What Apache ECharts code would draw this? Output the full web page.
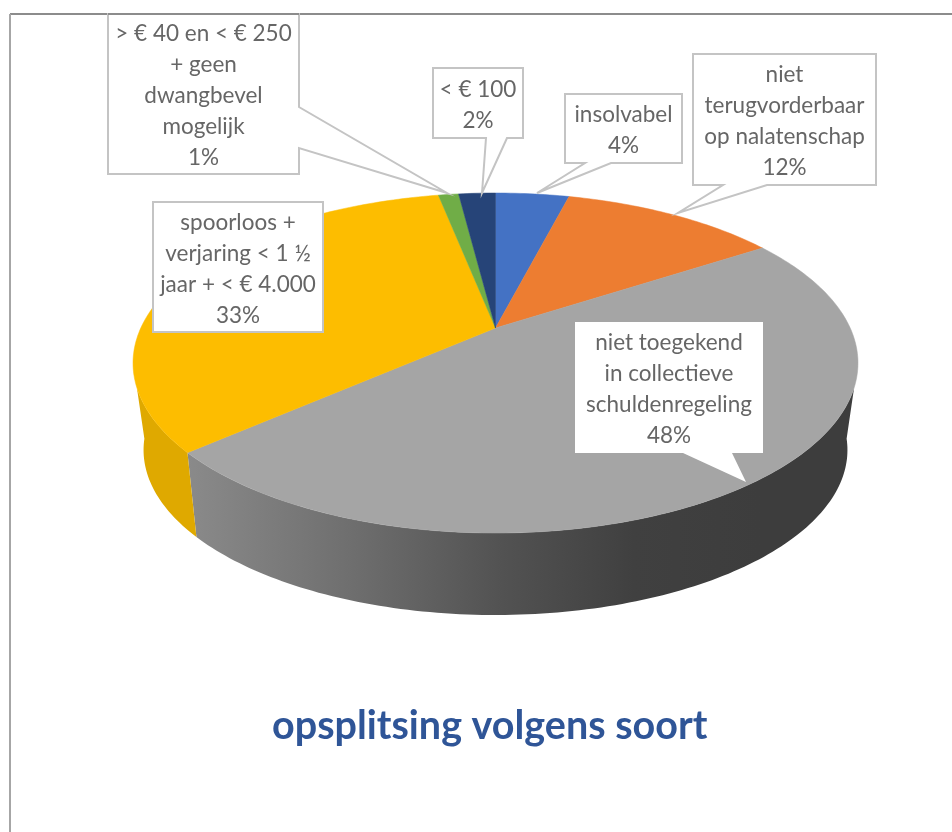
<!DOCTYPE html>
<html><head><meta charset="utf-8">
<style>html,body{margin:0;padding:0;background:#fff}#c{width:952px;height:832px}</style>
<script src="https://cdn.jsdelivr.net/npm/echarts@6/dist/echarts.min.js"></script>
</head><body><div id="c"></div>
<script>
// --- data ---
var categories = [
  'insolvabel',
  'niet\nterugvorderbaar\nop nalatenschap',
  'niet toegekend\nin collectieve\nschuldenregeling',
  'spoorloos +\nverjaring < 1 ½\njaar + < € 4.000',
  '> € 40 en < € 250\n+ geen\ndwangbevel\nmogelijk',
  '< € 100'
];
var values = [4.0, 11.8, 47.7, 33.4, 1.1, 2.0];
var titleText = 'opsplitsing volgens soort';

// --- styling ---
var topColors = ['#4472C4', '#ED7D31', '#A5A5A5', '#FDBD00', '#70AD47', '#264478'];
var FONT = 'Lato, "Open Sans", sans-serif';

// --- perspective of the disc ---
var K = 0.206;
var TOP = { cx: 495.5, cy: 328, R: 354.7, S: 162.8 };
var BOT = { cx: 495.5, cy: 416, R: 344.4, S: 158 };
var TOP_RANGE = [110, 250];   // front part of the rim (degrees clockwise from 12 o'clock)
var BOT_RANGE = [98, 262];

function proj(d, deg) {
  var a = deg * Math.PI / 180, X = Math.sin(a), Y = Math.cos(a), w = 1 + K * Y;
  return [d.cx + d.R * X / w, d.cy - d.S * Y / w];
}
function arc(d, a, b) {
  var pts = [], n = Math.max(2, Math.ceil(Math.abs(b - a) / 1));
  for (var i = 0; i <= n; i++) pts.push(proj(d, a + (b - a) * i / n));
  return pts;
}
var total = values.reduce(function (s, v) { return s + v; }, 0);
var cum = 0;
var rows = values.map(function (v, i) {
  var r = [cum / total * 360, (cum + v) / total * 360, i];
  cum += v;
  return r;
});

function sideFill(i) {
  if (i === 2) {
    // horizontal shading of the grey rim
    return new echarts.graphic.LinearGradient(188, 0, 760, 0, [
      { offset: 0, color: '#8A8A8A' },
      { offset: 0.28, color: '#6F6F6F' },
      { offset: 0.55, color: '#525252' },
      { offset: 0.78, color: '#404040' },
      { offset: 1, color: '#3D3D3D' }
    ], true);
  }
  return '#DFA900';
}

function renderSlice(params, api) {
  var a = api.value(0), b = api.value(1), i = api.value(2);
  var children = [];
  var ta = Math.max(a, TOP_RANGE[0]), tb = Math.min(b, TOP_RANGE[1]);
  if (tb > ta) {
    var ba = Math.max(a, BOT_RANGE[0]), bb = Math.min(b, BOT_RANGE[1]);
    var side = arc(TOP, ta, tb).concat(arc(BOT, bb, ba));
    children.push({ type: 'polygon', z2: 1, shape: { points: side },
      style: { fill: sideFill(i), stroke: null } });
  }
  var face = [[TOP.cx, TOP.cy]].concat(arc(TOP, a, b));
  children.push({ type: 'polygon', z2: 2, shape: { points: face },
    style: { fill: topColors[i], stroke: topColors[i], lineWidth: 0.5 } });
  return { type: 'group', children: children };
}

// --- callouts: box [x0,y0,x1,y1], tail [base, tip, base] ---
var calloutBoxes = [
  [565, 94, 682, 163], [693, 54, 876, 185], [575, 322, 763, 453],
  [153, 202, 323, 332], [108, 14, 299, 174], [433, 68, 523, 138]
];
var calloutTails = [
  [[585, 163], [537, 193], [611, 163]],
  [[723, 185], [678, 213], [767, 185]],
  [[683, 453], [746, 482], [732, 453]],
  null,
  [[299, 107], [447, 193], [299, 148]],
  [[486, 138], [482, 193], [507, 138]]
];
var calloutFrames = [true, true, false, true, true, true];

function calloutPoints(box, tail) {
  var x0 = box[0], y0 = box[1], x1 = box[2], y1 = box[3];
  if (!tail) return [[x0, y0], [x1, y0], [x1, y1], [x0, y1]];
  if (tail[0][0] === x1) {
    return [[x0, y0], [x1, y0], tail[0], tail[1], tail[2], [x1, y1], [x0, y1]];
  }
  return [[x0, y0], [x1, y0], [x1, y1], tail[2], tail[1], tail[0], [x0, y1]];
}
var graphics = [
  { type: 'line', silent: true, z: 1, shape: { x1: 10, y1: 14, x2: 952, y2: 14 }, style: { stroke: '#8C8C8C', lineWidth: 2 } },
  { type: 'line', silent: true, z: 1, shape: { x1: 10, y1: 14, x2: 10, y2: 832 }, style: { stroke: '#A6A6A6', lineWidth: 2 } }
];
categories.forEach(function (c, i) {
  var box = calloutBoxes[i];
  graphics.push({ type: 'polygon', silent: true, z: 10,
    shape: { points: calloutPoints(box, calloutTails[i]) },
    style: { fill: '#fff', stroke: calloutFrames[i] ? '#C4C4C4' : null, lineWidth: 2 } });
  graphics.push({ type: 'text', silent: true, z: 11,
    x: (box[0] + box[2]) / 2, y: (box[1] + box[3]) / 2 + 2,
    style: { text: c + '\n' + Math.round(values[i]) + '%', fill: '#666666', font: '22.5px ' + FONT,
      lineHeight: 31, align: 'center', verticalAlign: 'middle' } });
});
// the top rule runs over the clipped top of the tallest callout
graphics.push({ type: 'line', silent: true, z: 12, shape: { x1: 108, y1: 14, x2: 299, y2: 14 }, style: { stroke: '#8C8C8C', lineWidth: 2 } });

var chart = echarts.init(document.getElementById('c'));
chart.setOption({
  animation: false,
  backgroundColor: '#fff',
  title: { text: titleText, left: 272, top: 706, padding: 0,
    textStyle: { color: '#2F5597', fontFamily: FONT, fontSize: 39.5, fontWeight: 'bold' } },
  graphic: graphics,
  series: [{
    type: 'custom',
    coordinateSystem: 'none',
    renderItem: renderSlice,
    data: rows
  }]
});
</script></body></html>
